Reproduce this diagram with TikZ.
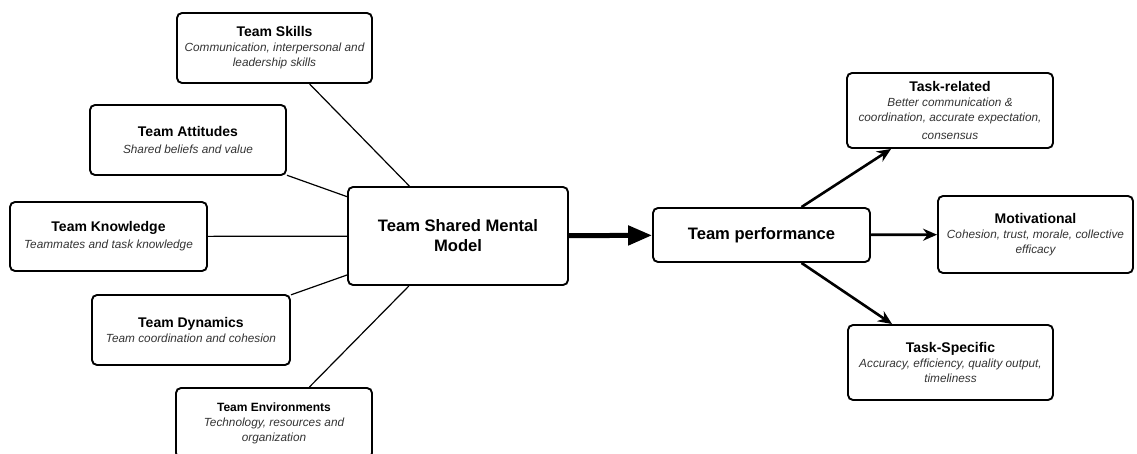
\documentclass[tikz,border=0pt]{standalone}
\usepackage{fontspec}
\setmainfont{Liberation Sans}
\usetikzlibrary{arrows.meta,positioning}
\tikzset{>={Stealth[length=14pt,width=12pt]}}
\definecolor{notegray}{HTML}{333333}
\tikzset{
  box/.style={draw,line width=1.9pt,rounded corners=5pt,align=center,inner sep=0pt,
    font=\fontsize{11.8}{15}\selectfont},
  link/.style={line width=1.2pt},
  outarrow/.style={->,line width=2.6pt},
}
\newcommand{\boxtitle}[1]{{\fontsize{14}{16}\selectfont\bfseries #1}}
\newcommand{\boxnote}[1]{{\color{notegray}\itshape #1}}

\begin{document}
\begin{tikzpicture}[x=1pt,y=-1pt]
\useasboundingbox (0,0) rectangle (1137,454);

\node[box,minimum width=220pt,minimum height=98pt,font=\fontsize{16.6}{20}\selectfont\bfseries] (smm) at (458,236) {Team Shared Mental\\Model};
\node[box,minimum width=217pt,minimum height=54pt,font=\fontsize{16.6}{20}\selectfont\bfseries] (perf) at (761.5,235) {Team performance};

\node[box,minimum width=195pt,minimum height=70pt] (skills) at (274.5,48) {\boxtitle{Team Skills}\\\boxnote{Communication, interpersonal and}\\\boxnote{leadership skills}};
\node[box,minimum width=196pt,minimum height=70pt] (attitudes) at (188,140) {\boxtitle{Team Attitudes}\\[2pt]\boxnote{Shared beliefs and value}};
\node[box,minimum width=197pt,minimum height=69pt] (knowledge) at (108.5,236.5) {\boxtitle{Team Knowledge}\\[2pt]\boxnote{Teammates and task knowledge}};
\node[box,minimum width=198pt,minimum height=70pt] (dynamics) at (191,330) {\boxtitle{Team Dynamics}\\\boxnote{Team coordination and cohesion}};
\node[box,minimum width=196pt,minimum height=70pt] (environments) at (274,423) {{\fontsize{12}{14}\selectfont\bfseries Team Environments}\\\boxnote{Technology, resources and}\\\boxnote{organization}};

\node[box,minimum width=206pt,minimum height=75pt] (taskrel) at (950,110.5) {\boxtitle{Task-related}\\\boxnote{Better communication \&}\\\boxnote{coordination, accurate expectation,}\\[3pt]\boxnote{consensus}};
\node[box,minimum width=195pt,minimum height=77pt] (motiv) at (1035.5,234.5) {\boxtitle{Motivational}\\\boxnote{Cohesion, trust, morale, collective}\\\boxnote{efficacy}};
\node[box,minimum width=205pt,minimum height=75pt] (taskspec) at (950.5,362.5) {\boxtitle{Task-Specific}\\\boxnote{Accuracy, efficiency, quality output,}\\\boxnote{timeliness}};

\foreach \src in {skills,attitudes,knowledge,dynamics,environments}
  \draw[link] (\src) -- (smm);

\draw[line width=5pt,-{Triangle[length=24pt,width=19pt]}] (smm) -- (perf);
\draw[outarrow] ([xshift=40pt]perf.north) -- ([xshift=45pt]taskrel.south west);
\draw[outarrow] (perf) -- (motiv);
\draw[outarrow] ([xshift=40pt]perf.south) -- ([xshift=45pt]taskspec.north west);
\end{tikzpicture}
\end{document}
